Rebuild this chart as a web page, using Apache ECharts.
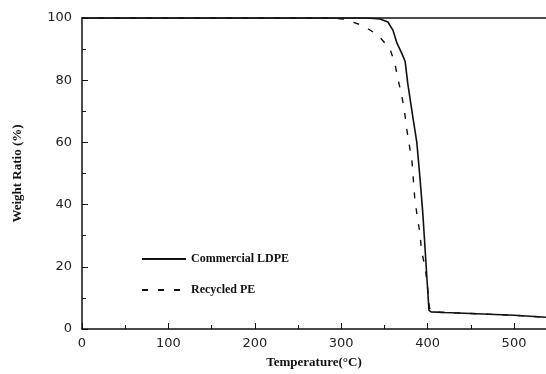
<!DOCTYPE html>
<html>
<head>
<meta charset="utf-8">
<script src="https://cdn.jsdelivr.net/npm/echarts@6/dist/echarts.min.js"></script>
<style>
  html, body { margin: 0; padding: 0; background: #fff; }
  #main { width: 546px; height: 374px; }
</style>
</head>
<body>
<div id="main"></div>
<script>
// TGA curves
var ldpeTemp = [0, 100, 200, 300, 330, 345, 354, 360, 364.5, 370, 374, 377, 383, 387.5, 391, 394.5, 399, 401.6, 404, 420, 450, 500, 537];
var ldpeWeight = [100, 100, 100, 100, 100, 99.7, 98.7, 96, 91.9, 88.7, 86, 79, 68, 60, 49, 37, 17.2, 6, 5.5, 5.3, 5, 4.4, 3.8];

var recTemp = [0, 100, 200, 290, 302, 310, 325, 343, 356.5, 362, 366, 370, 373, 376, 382, 385, 388, 391, 393, 397, 399.5, 402, 404, 420, 450, 500, 537];
var recWeight = [100, 100, 100, 100, 99.7, 99, 97.6, 94.4, 90, 85.5, 80, 75, 70.5, 64, 53.6, 42.4, 36, 31, 25, 20, 14.7, 7, 5.5, 5.3, 5, 4.4, 3.8];

var seriesNames = ['Commercial LDPE', 'Recycled PE'];

function pairs(xs, ys) {
  return xs.map(function (x, i) { return [x, ys[i]]; });
}

var titleFont = { fontFamily: 'Liberation Serif', fontWeight: 'bold', fontSize: 13, color: '#111' };
var tickFont = { fontFamily: 'DejaVu Sans', fontSize: 13, color: '#222' };

var chart = echarts.init(document.getElementById('main'));
chart.setOption({
  animation: false,
  backgroundColor: '#fff',
  grid: { left: 82, right: 0, top: 18, bottom: 43 },
  legend: {
    orient: 'vertical',
    left: 136,
    top: 248,
    itemWidth: 44,
    itemHeight: 10,
    itemGap: 19,
    itemStyle: { color: 'transparent', borderWidth: 0, opacity: 0 },
    textStyle: { fontFamily: 'Liberation Serif', fontWeight: 'bold', fontSize: 12, color: '#111' },
    data: seriesNames
  },
  xAxis: [{
    type: 'value',
    min: 0,
    max: 537,
    interval: 100,
    name: 'Temperature(°C)',
    nameLocation: 'middle',
    nameGap: 27,
    nameTextStyle: titleFont,
    axisLine: { lineStyle: { color: '#111', width: 1.5 } },
    axisTick: { inside: true, length: 6, lineStyle: { color: '#111' } },
    minorTick: { show: true, splitNumber: 2, length: 4, lineStyle: { color: '#111' } },
    axisLabel: Object.assign({ margin: 8, showMaxLabel: false }, tickFont),
    splitLine: { show: false }
  }, {
    type: 'value',
    position: 'top',
    min: 0,
    max: 537,
    axisLine: { show: true, lineStyle: { color: '#111', width: 1.5 } },
    axisTick: { show: false },
    axisLabel: { show: false },
    splitLine: { show: false }
  }],
  yAxis: {
    type: 'value',
    min: 0,
    max: 100,
    interval: 20,
    name: 'Weight Ratio (%)',
    nameLocation: 'middle',
    nameGap: 58,
    nameTextStyle: titleFont,
    axisLine: { show: true, lineStyle: { color: '#111', width: 1.5 } },
    axisTick: { show: true, inside: true, length: 6, lineStyle: { color: '#111' } },
    minorTick: { show: true, splitNumber: 2, length: 4, lineStyle: { color: '#111' } },
    axisLabel: Object.assign({ margin: 10 }, tickFont),
    splitLine: { show: false }
  },
  series: [{
    name: seriesNames[0],
    type: 'line',
    symbol: 'none',
    lineStyle: { color: '#111', width: 1.6 },
    itemStyle: { color: '#111' },
    data: pairs(ldpeTemp, ldpeWeight)
  }, {
    name: seriesNames[1],
    type: 'line',
    symbol: 'none',
    lineStyle: { color: '#111', width: 1.4, type: [6, 10] },
    itemStyle: { color: '#111' },
    data: pairs(recTemp, recWeight)
  }]
});
</script>
</body>
</html>
